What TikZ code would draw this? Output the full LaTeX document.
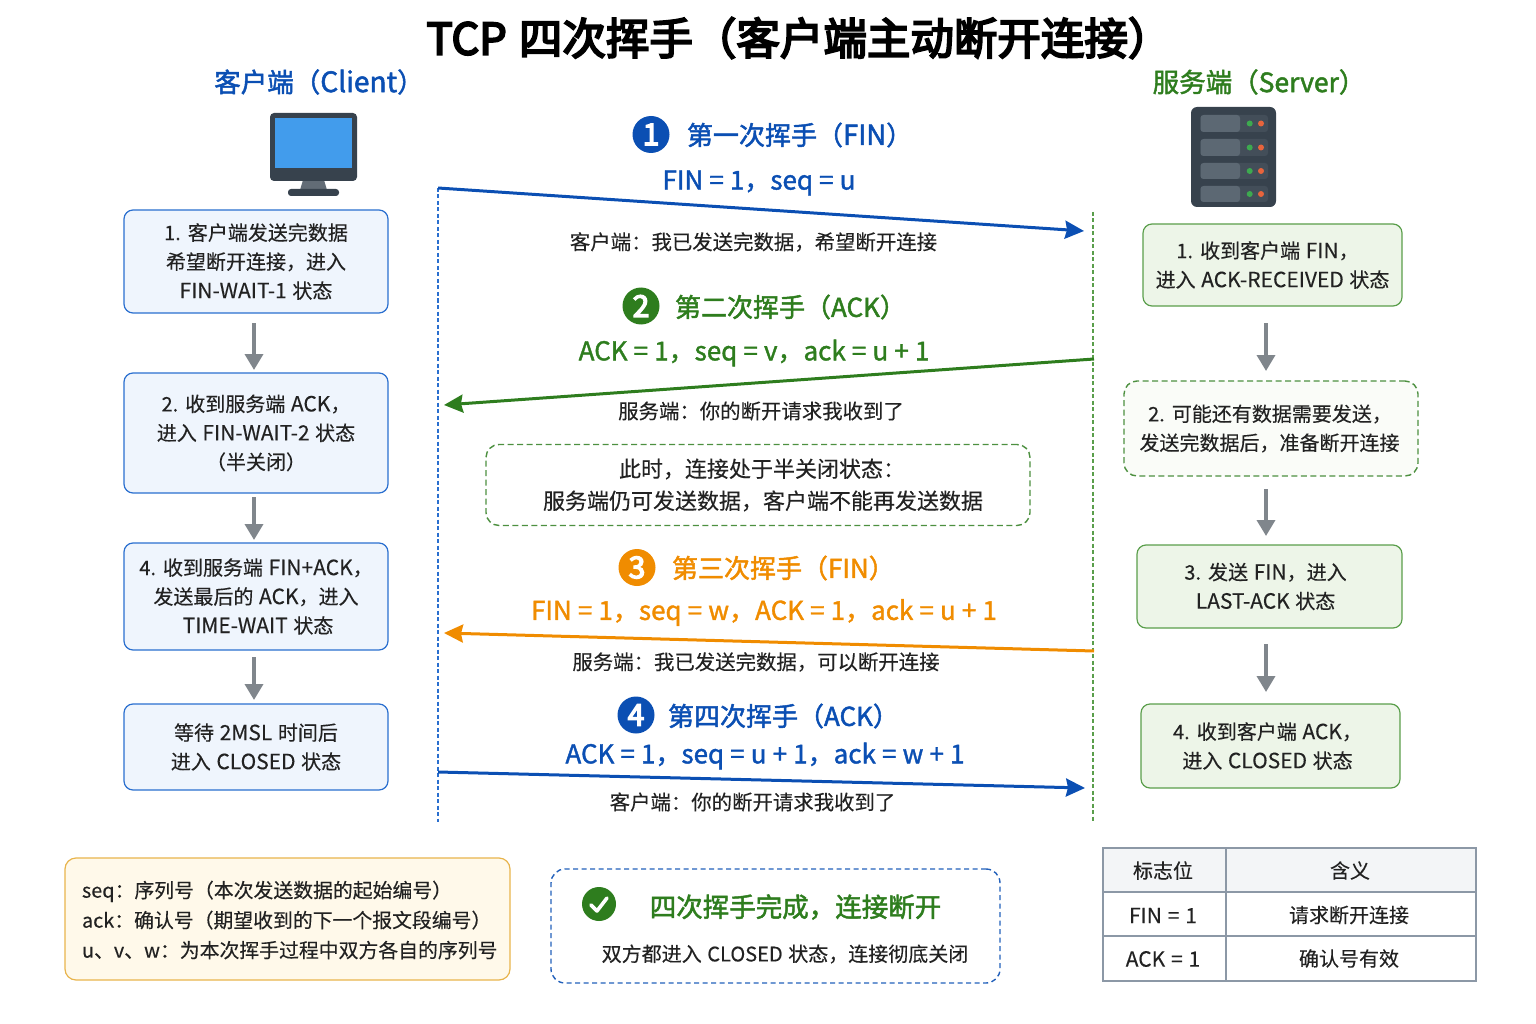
\documentclass[tikz,border=0pt]{standalone}
\usepackage{fontspec}
\setmainfont[WordSpace=1.25,FakeBold=0.25]{Noto Sans CJK SC}
\newfontfamily\medfont[WordSpace=1.25,FakeBold=1.8]{Noto Sans CJK SC}
\newfontfamily\formfont[WordSpace=1.05,FakeBold=1.4]{Noto Sans CJK SC}
\newfontfamily\medlatn[Scale=1.06,WordSpace=1.25,FakeBold=1.8]{Noto Sans CJK SC}
\newfontfamily\titlefont[WordSpace=1.25,FakeBold=4.5]{Noto Sans CJK SC}
\newfontfamily\latnfont[Scale=1.05,WordSpace=1.25,FakeBold=0.25]{Noto Sans CJK SC}
\newcommand{\La}[1]{{\latnfont #1}}
\newcommand{\Lb}[1]{{\medlatn #1}}
\usetikzlibrary{arrows.meta,calc}
\definecolor{cblue}{HTML}{0B4FB3}
\definecolor{cgreen}{HTML}{2E7D1E}
\definecolor{corange}{HTML}{F08C00}
\definecolor{ctext}{HTML}{222222}
\definecolor{cblueline}{HTML}{2A6FCF}
\definecolor{cbluefill}{HTML}{EFF5FD}
\definecolor{cgreenline}{HTML}{5A9E4B}
\definecolor{cgreenfill}{HTML}{EDF5E8}
\definecolor{cgreenpale}{HTML}{FAFCF8}
\definecolor{cyellowfill}{HTML}{FFF9EA}
\definecolor{cyellowline}{HTML}{E8B44C}
\definecolor{cgrey}{HTML}{80868C}
\definecolor{cdark}{HTML}{37424D}
\definecolor{cstand}{HTML}{626C76}
\definecolor{cscreen}{HTML}{429CEC}
\definecolor{crack}{HTML}{434E59}
\definecolor{cslot}{HTML}{5C6873}
\definecolor{cdotg}{HTML}{3DAA4F}
\definecolor{cdotr}{HTML}{E8643C}
\definecolor{ctable}{HTML}{8C98A6}
\definecolor{chead}{HTML}{F3F5F7}
\tikzset{
  x=1pt,y=-1pt,
  every node/.style={inner sep=0pt,outer sep=0pt,text=ctext},
  txt/.style={font=\fontsize{20}{29}\selectfont,align=center},
  clientbox/.style={draw=cblueline,fill=cbluefill,line width=1.2pt,rounded corners=9pt,txt},
  serverbox/.style={draw=cgreenline,fill=cgreenfill,line width=1.2pt,rounded corners=9pt,txt},
  dashbox/.style={draw=cgreen!85!white,fill=cgreenpale,line width=1.4pt,rounded corners=13pt,dash pattern=on 6pt off 3.5pt,txt},
  stepdown/.style={draw=cgrey,line width=3.6pt,-{Triangle[length=16pt,width=18pt]}},
  msg/.style={line width=3pt,-{Stealth[length=19pt,width=18pt,inset=2pt]}},
  life/.style={line width=1.2pt,dash pattern=on 4pt off 2.5pt},
  head/.style={font=\medfont\fontsize{26}{30}\selectfont,anchor=west},
  formula/.style={font=\formfont\fontsize{26}{30}\selectfont},
  caption/.style={font=\fontsize{20.4}{26}\selectfont},
  badge/.style={circle,minimum size=37pt,font=\titlefont\fontsize{30}{30}\selectfont,text=white},
  cell/.style={font=\fontsize{20}{26}\selectfont},
}
\begin{document}
\begin{tikzpicture}
\useasboundingbox (0,0) rectangle (1536,1024);
\node[font=\titlefont\fontsize{43.5}{48}\selectfont,text=black] (title) at (799,38) {TCP 四次挥手（客户端主动断开连接）};
\node[font=\medfont\fontsize{26.5}{30}\selectfont,text=cblue] (clienthead) at (319,82) {客户端（\Lb{Client}）};
\node[font=\medfont\fontsize{26.5}{30}\selectfont,text=cgreen] (serverhead) at (1259,82) {服务端（Server）};
% monitor icon
\fill[cstand] (303,180) -- (324,180) -- (327,190) -- (300,190) -- cycle;
\fill[cdark,rounded corners=4pt] (270,113) rectangle (357,181);
\fill[cscreen] (275,118) rectangle (352,168);
\fill[cdark,rounded corners=3pt] (288,189) rectangle (339,196);
% server icon
\fill[cdark,rounded corners=6pt] (1191,107) rectangle (1276,207);
\foreach \a/\b in {115/132,139/156,163/179,186/202}{
  \fill[crack,rounded corners=3pt] (1200.5,\a) rectangle (1268,\b);
  \fill[cslot,rounded corners=3pt] (1200.5,\a) rectangle (1240,\b);
  \fill[cdotg] (1249.7,{(\a+\b)/2}) circle (3pt);
  \fill[cdotr] (1261,{(\a+\b)/2}) circle (3pt);
}
% client boxes
\node[clientbox,minimum width=264pt,minimum height=103pt] (c1) at (256,261.5) {1. 客户端发送完数据\\希望断开连接，进入\\\La{FIN-WAIT-1} 状态};
\node[clientbox,minimum width=264pt,minimum height=120pt] (c2) at (256,433) {2. 收到服务端 \La{ACK}，\\进入 \La{FIN-WAIT-2} 状态\hspace*{18pt}\\（半关闭）};
\node[clientbox,minimum width=264pt,minimum height=107pt] (c3) at (256,596.5) {4. 收到服务端 \La{FIN+ACK}，\\发送最后的 \La{ACK}，进入\hspace*{2pt}\\\hspace*{4pt}\La{TIME-WAIT} 状态};
\node[clientbox,minimum width=264pt,minimum height=86pt] (c4) at (256,747) {等待 \La{2MSL} 时间后\\进入 \La{CLOSED} 状态};
% server boxes
\node[serverbox,minimum width=259pt,minimum height=82pt] (s1) at (1272.5,265) {1. 收到客户端 \La{FIN}，\hspace*{10pt}\\进入 \La{ACK-RECEIVED} 状态};
\node[dashbox,minimum width=294pt,minimum height=95pt] (s2) at (1271,428.5) {2. 可能还有数据需要发送，\hspace*{2pt}\\发送完数据后，准备断开连接\hspace*{3pt}};
\node[serverbox,minimum width=265pt,minimum height=83pt] (s3) at (1269.5,586.5) {3. 发送 \La{FIN}，进入\hspace*{8pt}\\\La{LAST-ACK} 状态\hspace*{8pt}};
\node[serverbox,minimum width=259pt,minimum height=84pt] (s4) at (1270.5,746) {4. 收到客户端 \La{ACK}，\hspace*{6pt}\\进入 \La{CLOSED} 状态\hspace*{6pt}};
% step arrows
\coordinate (ca1) at (254,323); \coordinate (cb1) at (254,370);
\coordinate (ca2) at (254,497); \coordinate (cb2) at (254,540);
\coordinate (ca3) at (254,657); \coordinate (cb3) at (254,700);
\coordinate (sa1) at (1266,323); \coordinate (sb1) at (1266,371);
\coordinate (sa2) at (1266,489); \coordinate (sb2) at (1266,536);
\coordinate (sa3) at (1266,644); \coordinate (sb3) at (1266,692);
\foreach \p/\q in {ca1/cb1,ca2/cb2,ca3/cb3,sa1/sb1,sa2/sb2,sa3/sb3}{\draw[stepdown] (\p) -- (\q);}
% lifelines
\coordinate (ltop) at (438,188); \coordinate (lbot) at (438,822);
\coordinate (rtop) at (1093,212); \coordinate (rbot) at (1093,822);
\draw[life,draw=cblueline] (ltop) -- (lbot);
\draw[life,draw=cgreenline] (rtop) -- (rbot);
% messages
\coordinate (m1a) at (438,188); \coordinate (m1b) at (1084,231);
\coordinate (m2a) at (1094,359); \coordinate (m2b) at (444,405);
\coordinate (m3a) at (1094,651); \coordinate (m3b) at (444,633);
\coordinate (m4a) at (438,772); \coordinate (m4b) at (1085,788);
\draw[msg,draw=cblue] (m1a) -- (m1b);
\draw[msg,draw=cgreen] (m2a) -- (m2b);
\draw[msg,draw=corange] (m3a) -- (m3b);
\draw[msg,draw=cblue] (m4a) -- (m4b);
% step 1
\node[badge,fill=cblue] (b1) at (651,134.5) {1};
\node[head,text=cblue] (h1) at (687,135) {第一次挥手（\Lb{FIN}）};
\node[formula,text=cblue] (f1) at (759,183) {FIN = 1，seq = u};
\node[caption] (t1) at (753.5,242) {客户端：我已发送完数据，希望断开连接};
% step 2
\node[badge,fill=cgreen] (b2) at (641,306) {2};
\node[head,text=cgreen] (h2) at (675,307) {第二次挥手（ACK）};
\node[formula,text=cgreen] (f2) at (754,353) {ACK = 1，seq = v，ack = u + 1};
\node[caption] (t2) at (761,411) {服务端：你的断开请求我收到了};
% half close note
\node[dashbox,fill=white,minimum width=544pt,minimum height=81pt,font=\fontsize{22}{32}\selectfont] (note) at (758,485) {\hspace*{8pt}此时，连接处于半关闭状态：\\\hspace*{10pt}服务端仍可发送数据，客户端不能再发送数据};
% step 3
\node[badge,fill=corange] (b3) at (637,567.5) {3};
\node[head,text=corange] (h3) at (672,568) {第三次挥手（FIN）};
\node[formula,text=corange] (f3) at (764,612.5) {FIN = 1，seq = w，ACK = 1，ack = u + 1};
\node[caption] (t3) at (756,662) {服务端：我已发送完数据，可以断开连接};
% step 4
\node[badge,fill=cblue] (b4) at (636,715) {4};
\node[head,text=cblue] (h4) at (668,716) {第四次挥手（ACK）};
\node[formula,text=cblue] (f4) at (765,756) {ACK = 1，seq = u + 1，ack = w + 1};
\node[caption] (t4) at (752.5,802) {客户端：你的断开请求我收到了};
% legend
\node[draw=cyellowline,fill=cyellowfill,line width=1.2pt,rounded corners=11pt,minimum width=445pt,minimum height=122pt] (legend) at (287.5,919) {};
\node[txt,align=left,anchor=west,font=\fontsize{19.85}{30}\selectfont] (legendtxt) at (82,920) {seq：序列号（本次发送数据的起始编号）\\ack：确认号（期望收到的下一个报文段编号）\\u、v、w：为本次挥手过程中双方各自的序列号};
% done box
\node[draw=cblue!90!white,fill=white,line width=1.4pt,rounded corners=14pt,dash pattern=on 5pt off 3.5pt,minimum width=449pt,minimum height=114pt] (done) at (775.5,926) {};
\node[circle,fill=cgreen,minimum size=34pt] (check) at (599,904) {};
\draw[white,line width=3.6pt,line cap=round,line join=round] ($(check)+(-8,1)$) -- ($(check)+(-2,7)$) -- ($(check)+(8,-6)$);
\node[font=\medfont\fontsize{26.5}{30}\selectfont,text=cgreen] (donehead) at (795.5,907) {四次挥手完成，连接断开};
\node[font=\fontsize{20}{26}\selectfont] (donetxt) at (785,954) {双方都进入 CLOSED 状态，连接彻底关闭};
% table
\fill[chead] (1103,848) rectangle (1476,892);
\draw[ctable,line width=1.3pt] (1103,848) rectangle (1476,981);
\draw[ctable,line width=1.3pt] (1103,892) -- (1476,892) (1103,936) -- (1476,936) (1226,848) -- (1226,981);
\node[cell] (th1) at (1163,870.5) {标志位};
\node[cell] (th2) at (1350,870.5) {含义};
\node[cell] (td1) at (1163,915.5) {\La{FIN = 1}};
\node[cell] (td2) at (1349,915) {请求断开连接};
\node[cell] (td3) at (1163,959) {\La{ACK = 1}};
\node[cell] (td4) at (1349,958.5) {确认号有效};
\end{tikzpicture}
\end{document}
